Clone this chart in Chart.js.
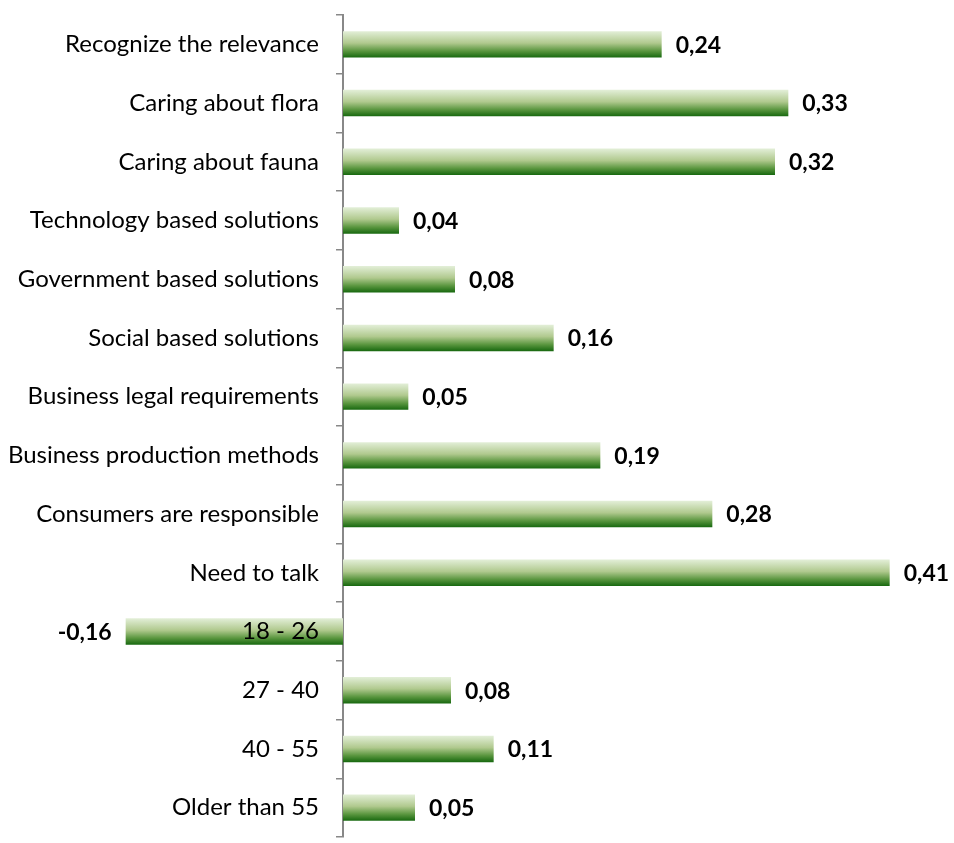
<!DOCTYPE html>
<html>
<head>
<meta charset="utf-8">
<script src="https://cdn.jsdelivr.net/npm/chart.js@4.4.0/dist/chart.umd.min.js"></script>
<style>
  body { margin: 0; background: #fff; }
  #wrap { width: 954px; height: 843px; }
</style>
</head>
<body>
<div id="wrap"><canvas id="grafico"></canvas></div>
<script>
const categorias = [
  'Recognize the relevance',
  'Caring about flora',
  'Caring about fauna',
  'Technology based solutions',
  'Government based solutions',
  'Social based solutions',
  'Business legal requirements',
  'Business production methods',
  'Consumers are responsible',
  'Need to talk',
  '18 - 26',
  '27 - 40',
  '40 - 55',
  'Older than 55'
];
const valores = [0.239, 0.334, 0.324, 0.042, 0.084, 0.158, 0.049, 0.193, 0.277, 0.41, -0.163, 0.081, 0.113, 0.054];

const fuente = 'Lato, "Open Sans", sans-serif';

// degradado verde por barra (claro arriba, oscuro abajo)
const degradado = {
  id: 'degradado',
  beforeDatasetsDraw(chart) {
    const ctx = chart.ctx;
    chart.getDatasetMeta(0).data.forEach(bar => {
      const top = bar.y - bar.height / 2;
      const g = ctx.createLinearGradient(0, top, 0, top + bar.height);
      g.addColorStop(0, '#e3efd8');
      g.addColorStop(0.45, '#b0c98e');
      g.addColorStop(0.75, '#5a963f');
      g.addColorStop(1, '#17680f');
      bar.options = Object.assign({}, bar.options, { backgroundColor: g });
    });
  }
};

// etiquetas de valor al final de cada barra
const etiquetas = {
  id: 'etiquetas',
  afterDatasetsDraw(chart) {
    const ctx = chart.ctx;
    ctx.save();
    ctx.font = 'bold 23px ' + fuente;
    ctx.fillStyle = '#000';
    ctx.textBaseline = 'middle';
    chart.getDatasetMeta(0).data.forEach((bar, i) => {
      const v = valores[i];
      const txt = v.toFixed(2).replace('.', ',');
      if (v >= 0) {
        ctx.textAlign = 'left';
        ctx.fillText(txt, bar.x + 14, bar.y + 1);
      } else {
        ctx.textAlign = 'right';
        ctx.fillText(txt, bar.x - 14, bar.y + 1);
      }
    });
    ctx.restore();
  }
};

const ctx = document.getElementById('grafico').getContext('2d');
new Chart(ctx, {
  type: 'bar',
  data: {
    labels: categorias,
    datasets: [{
      data: valores,
      backgroundColor: '#5f9a45',
      borderWidth: 0,
      barPercentage: 0.45,
      categoryPercentage: 1,
      clip: false
    }]
  },
  options: {
    indexAxis: 'y',
    responsive: true,
    maintainAspectRatio: false,
    animation: false,
    layout: { padding: { left: 0, right: 11, top: 15, bottom: 6 } },
    plugins: {
      legend: { display: false },
      tooltip: { enabled: false }
    },
    scales: {
      x: {
        display: false,
        min: 0,
        max: 0.45
      },
      y: {
        position: 'left',
        afterFit: scale => {
          scale.width = 343;
          scale.paddingTop = 0;
          scale.paddingBottom = 0;
        },
        grid: {
          offset: true,
          drawOnChartArea: false,
          tickLength: 7,
          color: '#888',
          lineWidth: 1.5
        },
        border: { color: '#888', width: 2 },
        ticks: {
          padding: 17,
          z: 1,
          color: '#000',
          font: { family: fuente, size: 24 }
        }
      }
    }
  },
  plugins: [degradado, etiquetas]
});
</script>
</body>
</html>
